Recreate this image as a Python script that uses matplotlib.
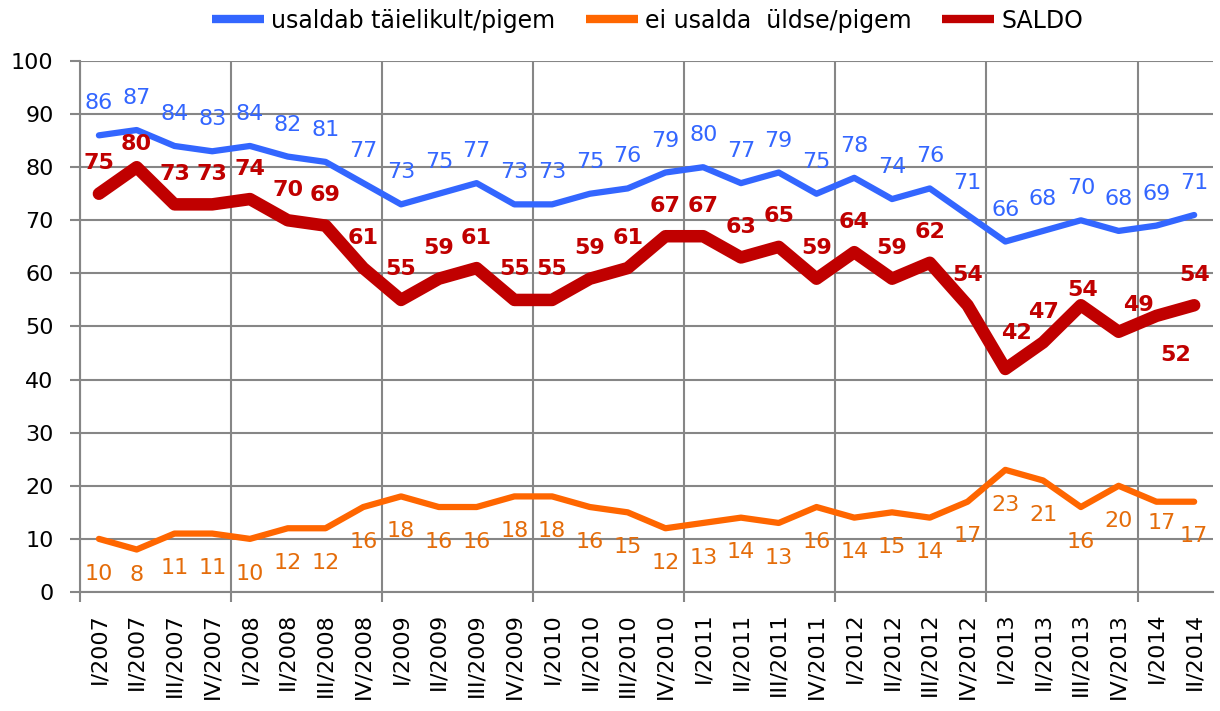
import matplotlib
matplotlib.use("Agg")
import matplotlib.pyplot as plt
import numpy as np

quarters = ["I", "II", "III", "IV"]
categories = [f"{q}/{y}" for y in range(2007, 2014) for q in quarters] + ["I/2014", "II/2014"]

trust = [86, 87, 84, 83, 84, 82, 81, 77, 73, 75, 77, 73, 73, 75, 76, 79,
         80, 77, 79, 75, 78, 74, 76, 71, 66, 68, 70, 68, 69, 71]
distrust = [10, 8, 11, 11, 10, 12, 12, 16, 18, 16, 16, 18, 18, 16, 15, 12,
            13, 14, 13, 16, 14, 15, 14, 17, 23, 21, 16, 20, 17, 17]
saldo = [75, 80, 73, 73, 74, 70, 69, 61, 55, 59, 61, 55, 55, 59, 61, 67,
         67, 63, 65, 59, 64, 59, 62, 54, 42, 47, 54, 49, 52, 54]

series_names = ["usaldab täielikult/pigem", "ei usalda  üldse/pigem", "SALDO"]

blue = "#3366FF"
orange = "#FF6600"
orange_txt = "#E46C0A"
red = "#C00000"
grid_c = "#868686"

fig = plt.figure(figsize=(12.2, 7.11), dpi=100)
ax = fig.add_axes([0.0656, 0.1674, 0.9287, 0.7468])

x = np.arange(len(categories))
l1, = ax.plot(x, trust, color=blue, lw=4.5, solid_joinstyle="round", solid_capstyle="round", zorder=3)
l2, = ax.plot(x, distrust, color=orange, lw=4.5, solid_joinstyle="round", solid_capstyle="round", zorder=3)
l3, = ax.plot(x, saldo, color=red, lw=9, solid_joinstyle="round", solid_capstyle="round", zorder=4)

# data labels (offsets in points)
saldo_off = {1: (0, 17), 24: (8, 26), 26: (1, 11), 27: (14, 19), 28: (14, -28)}
orange_off = {1: (0, -18), 28: (4, -15)}
for i in x:
    ax.annotate(str(trust[i]), (i, trust[i]), xytext=(0, 23), textcoords="offset points",
                ha="center", va="center", fontsize=16, color=blue, zorder=5)
    dx, dy = orange_off.get(i, (0, -25))
    ax.annotate(str(distrust[i]), (i, distrust[i]), xytext=(dx, dy), textcoords="offset points",
                ha="center", va="center", fontsize=16, color=orange_txt, zorder=5)
    dx, dy = saldo_off.get(i, (0, 22))
    ax.annotate(str(saldo[i]), (i, saldo[i]), xytext=(dx, dy), textcoords="offset points",
                ha="center", va="center", fontsize=16, color=red, fontweight="bold", zorder=6)

ax.set_xlim(-0.5, len(categories) - 0.5)
ax.set_ylim(0, 100)
ax.set_yticks(np.arange(0, 101, 10))

# gridlines / tick marks at year boundaries, labels at categories
ax.set_xticks(np.arange(-0.5, len(categories), 4))
ax.set_xticklabels([])
ax.set_xticks(x, minor=True)
ax.set_xticklabels(categories, minor=True, rotation=90, fontsize=16)
ax.tick_params(axis="x", which="minor", length=0, pad=15)
ax.tick_params(axis="x", which="major", length=7, width=1.5, color=grid_c)
ax.tick_params(axis="y", length=7, width=1.5, color=grid_c, labelsize=16, pad=12)

ax.grid(True, which="major", color=grid_c, lw=1.5, zorder=0)
ax.set_axisbelow(True)
for s in ["top", "right"]:
    ax.spines[s].set_visible(False)
for s in ["left", "bottom"]:
    ax.spines[s].set_color(grid_c)
    ax.spines[s].set_linewidth(1.5)

leg = fig.legend([l1, l2, l3], series_names, loc="center", bbox_to_anchor=(0.531, 0.971),
                 ncol=3, frameon=False, fontsize=17, handlelength=2.2, handletextpad=0.3,
                 columnspacing=1.3)
for h in leg.get_lines():
    h.set_linewidth(6)
    h.set_solid_capstyle("butt")

fig.savefig("out.png", dpi=100)
